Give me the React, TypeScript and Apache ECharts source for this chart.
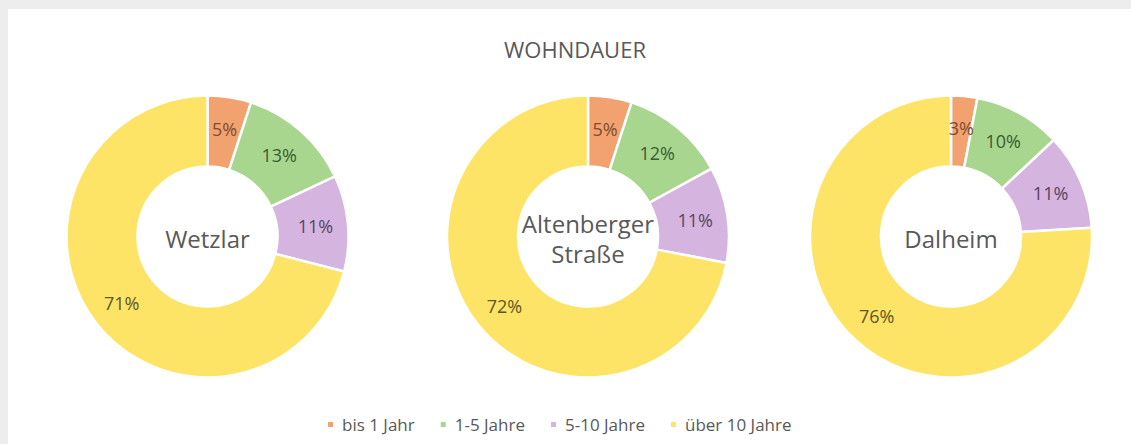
import React, { useEffect, useRef } from "react";
import * as echarts from "echarts";

const categories = ["bis 1 Jahr", "1-5 Jahre", "5-10 Jahre", "über 10 Jahre"];
const locations = ["Wetzlar", "Altenberger\nStraße", "Dalheim"];
const wetzlar = [5, 13, 11, 71];
const altenberger = [5, 12, 11, 72];
const dalheim = [3, 10, 11, 76];
const seriesValues = [wetzlar, altenberger, dalheim];

const sliceColors = ["#F2A26F", "#A9D68F", "#D5B4E0", "#FEE466"];
const labelColors = ["#7E4C30", "#3A5C31", "#584566", "#5F5626"];
const centersX = [199.5, 580, 943];
const centerY = 227.5;
const FONT = "'Open Sans', 'Noto Sans', sans-serif";

export default function App() {
  const ref = useRef<HTMLDivElement>(null);
  useEffect(() => {
    if (!ref.current) return;
    const chart = echarts.init(ref.current, undefined, { renderer: "svg" });
    const series = seriesValues.map((vals, si) => ({
      type: "pie",
      name: locations[si],
      center: [centersX[si], centerY],
      radius: [70, 141],
      startAngle: 90,
      clockwise: true,
      silent: true,
      itemStyle: { borderColor: "#ffffff", borderWidth: 2.5 },
      label: {
        show: true,
        position: "inside",
        formatter: "{c}%",
        fontFamily: FONT,
        fontSize: 18,
      },
      labelLine: { show: false },
      emphasis: { disabled: true },
      data: vals.map((v, i) => ({
        name: categories[i],
        value: v,
        itemStyle: { color: sliceColors[i] },
        label: { color: labelColors[i] },
      })),
    }));
    chart.setOption({
      animation: false,
      backgroundColor: "#ffffff",
      title: {
        text: "WOHNDAUER",
        left: 562,
        top: 24,
        textAlign: "center",
        textStyle: {
          fontFamily: FONT,
          fontSize: 22,
          fontWeight: "normal",
          color: "#595959",
        },
      },
      legend: {
        data: categories,
        left: 313,
        top: 402,
        icon: "rect",
        itemWidth: 7,
        itemHeight: 7,
        itemGap: 24,
        selectedMode: false,
        textStyle: {
          fontFamily: FONT,
          fontSize: 17,
          color: "#595959",
          padding: [0, 0, 0, 3],
        },
      },
      graphic: locations.map((loc, i) => ({
        type: "text",
        x: centersX[i],
        y: centerY + 1.5,
        silent: true,
        style: {
          text: loc,
          fill: "#595959",
          font: `24px ${FONT}`,
          align: "center",
          verticalAlign: "middle",
          lineHeight: 30,
        },
      })),
      series,
    });
    return () => chart.dispose();
  }, []);
  return (
    <div style={{ position: "fixed", left: 0, top: 0, width: 1131, height: 444, background: "#ededed" }}>
      <div
        ref={ref}
        style={{ position: "absolute", left: 8, top: 9, width: 1123, height: 435, background: "#ffffff" }}
      />
    </div>
  );
}
